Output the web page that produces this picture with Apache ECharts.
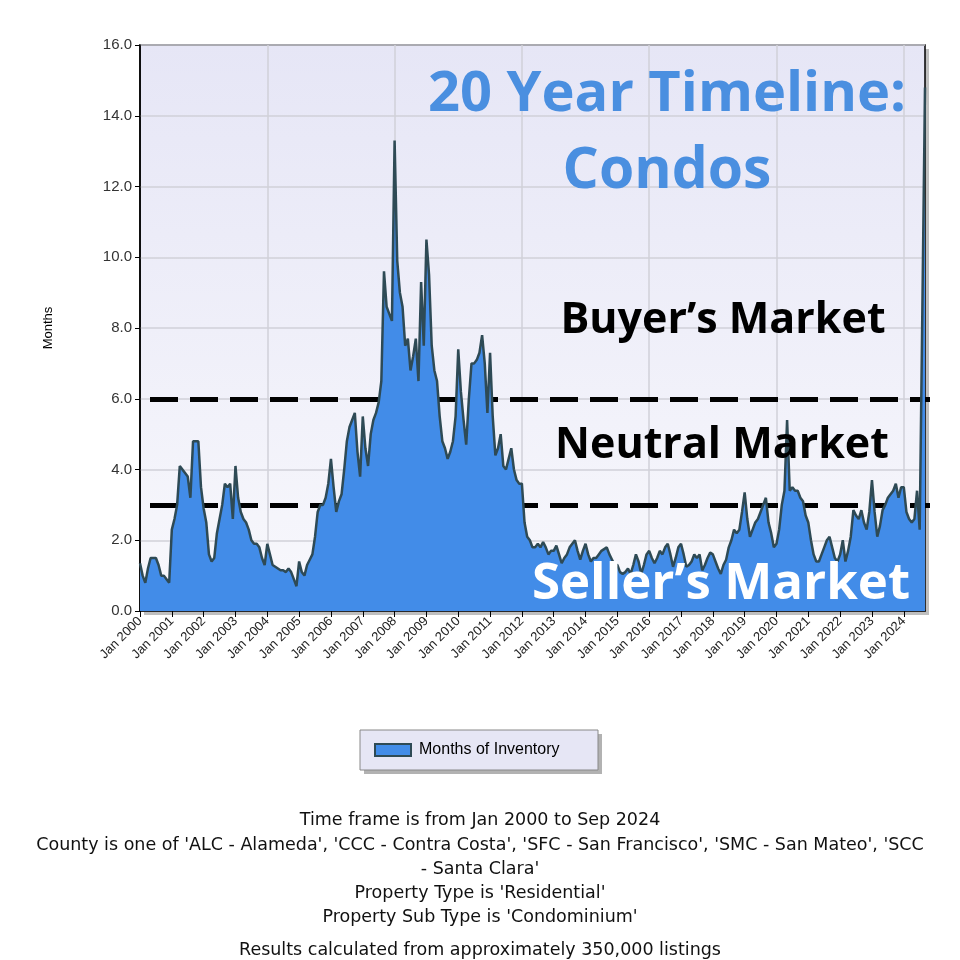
<!DOCTYPE html>
<html><head><meta charset="utf-8">
<script src="https://cdn.jsdelivr.net/npm/echarts@6/dist/echarts.min.js"></script>
<style>html,body{margin:0;padding:0;background:#fff}#c{width:960px;height:960px}</style>
</head><body><div id="c"></div>
<script>
const years = [2000,2001,2002,2003,2004,2005,2006,2007,2008,2009,2010,2011,2012,2013,2014,2015,2016,2017,2018,2019,2020,2021,2022,2023,2024];
const monthNames = ['Jan','Feb','Mar','Apr','May','Jun','Jul','Aug','Sep','Oct','Nov','Dec'];
const v2000 = [1.35,1.0,0.8,1.2,1.5,1.5,1.5,1.3,1.0,1.0,0.9,0.8];
const v2001 = [2.3,2.6,3.0,4.1,4.0,3.9,3.8,3.2,4.8,4.8,4.8,3.5];
const v2002 = [2.9,2.5,1.6,1.4,1.5,2.2,2.6,3.0,3.6,3.5,3.6,2.6];
const v2003 = [4.1,3.2,2.8,2.6,2.5,2.3,2.0,1.9,1.9,1.8,1.5,1.3];
const v2004 = [1.9,1.6,1.3,1.25,1.2,1.15,1.15,1.1,1.2,1.1,0.9,0.7];
const v2005 = [1.4,1.1,1.0,1.3,1.45,1.6,2.1,2.8,3.0,3.0,3.2,3.6];
const v2006 = [4.3,3.5,2.8,3.1,3.3,4.0,4.8,5.2,5.4,5.6,4.5,3.8];
const v2007 = [5.5,4.6,4.1,5.0,5.4,5.6,5.9,6.5,9.6,8.6,8.4,8.2];
const v2008 = [13.3,9.9,9.0,8.6,7.5,7.7,6.8,7.2,7.7,6.5,9.3,7.5];
const v2009 = [10.5,9.5,7.5,6.8,6.5,5.5,4.8,4.6,4.3,4.5,4.8,5.5];
const v2010 = [7.4,6.2,5.4,4.7,6.0,7.0,7.0,7.1,7.3,7.8,7.0,5.6];
const v2011 = [7.3,5.5,4.4,4.6,5.0,4.1,4.0,4.3,4.6,4.0,3.7,3.6];
const v2012 = [3.6,2.5,2.1,2.0,1.8,1.8,1.9,1.8,1.95,1.8,1.6,1.7];
const v2013 = [1.7,1.85,1.6,1.35,1.5,1.6,1.8,1.9,2.0,1.7,1.45,1.7];
const v2014 = [1.9,1.6,1.4,1.5,1.5,1.6,1.7,1.75,1.8,1.6,1.45,1.3];
const v2015 = [1.3,1.1,1.05,1.1,1.2,1.05,1.3,1.6,1.4,1.05,1.3,1.6];
const v2016 = [1.7,1.5,1.35,1.5,1.7,1.6,1.8,1.9,1.6,1.25,1.5,1.8];
const v2017 = [1.9,1.6,1.25,1.3,1.4,1.6,1.5,1.6,1.15,1.3,1.5,1.65];
const v2018 = [1.6,1.4,1.2,1.05,1.3,1.45,1.8,2.0,2.3,2.2,2.3,2.8];
const v2019 = [3.35,2.6,2.1,2.3,2.5,2.6,2.8,3.0,3.2,2.5,2.2,1.8];
const v2020 = [1.9,2.3,3.0,3.4,5.4,3.4,3.5,3.4,3.4,3.2,3.1,2.7];
const v2021 = [2.5,2.0,1.6,1.4,1.4,1.6,1.8,2.0,2.1,1.8,1.5,1.4];
const v2022 = [1.6,2.0,1.4,1.7,2.1,2.85,2.7,2.6,2.85,2.5,2.3,2.8];
const v2023 = [3.7,2.8,2.1,2.4,2.85,3.0,3.2,3.3,3.4,3.6,3.2,3.5];
const v2024 = [3.5,2.8,2.6,2.5,2.6,3.4,2.3,8.5,14.8];
const yTicks = ['0.0','2.0','4.0','6.0','8.0','10.0','12.0','14.0','16.0'];
const thresholds = [3.0, 6.0];
const seriesName = 'Months of Inventory';
const footer = [
 'Time frame is from Jan 2000 to Sep 2024',
 "County is one of 'ALC - Alameda', 'CCC - Contra Costa', 'SFC - San Francisco', 'SMC - San Mateo', 'SCC",
 "- Santa Clara'",
 "Property Type is 'Residential'",
 "Property Sub Type is 'Condominium'",
 'Results calculated from approximately 350,000 listings'
];
const footerY = [820, 845, 869, 893, 917, 950];

const yearVals = [v2000,v2001,v2002,v2003,v2004,v2005,v2006,v2007,v2008,v2009,v2010,v2011,v2012,v2013,v2014,v2015,v2016,v2017,v2018,v2019,v2020,v2021,v2022,v2023,v2024];
const cats = [], vals = [];
yearVals.forEach((arr, i) => arr.forEach((v, m) => { cats.push(monthNames[m] + ' ' + years[i]); vals.push(v); }));

const chart = echarts.init(document.getElementById('c'));
const ff = '"Liberation Sans", Arial, sans-serif';
const big = (text, x, y, color, size, align) => ({type:'text', x, y, style:{text, fill:color, font:'bold '+size+'px "Open Sans", sans-serif', textAlign:align||'center', textVerticalAlign:'middle'}, z:100});
const graphics = [
  {type:'rect', shape:{x:144, y:49, width:785, height:566}, style:{fill:'rgba(0,0,0,0.25)'}, z:-1, silent:true},
  {type:'rect', shape:{x:0, y:0, width:138, height:611}, style:{fill:'#fff'}, z:-2, silent:true},
  {type:'text', x:48, y:328, rotation:Math.PI/2, style:{text:'Months', fill:'#000', font:'13px '+ff, textAlign:'center', textVerticalAlign:'middle'}},
  big('20 Year Timeline:', 906, 95, '#4a8fe0', 56, 'right'),
  big('Condos', 667, 172, '#4a8fe0', 57),
  big('Buyer\u2019s Market', 723, 321, '#000', 43),
  big('Neutral Market', 722, 446, '#000', 43),
  big('Seller\u2019s Market', 721, 584, '#fff', 51),
  {type:'rect', shape:{x:364, y:734, width:238, height:40}, style:{fill:'rgba(0,0,0,0.3)'}},
  {type:'rect', shape:{x:360, y:730, width:238, height:40}, style:{fill:'#e6e6f5', stroke:'#888', lineWidth:1}},
  {type:'rect', shape:{x:375, y:744, width:36, height:12}, style:{fill:'#428ce8', stroke:'#2e4a55', lineWidth:2}},
  {type:'text', x:419, y:750, style:{text:seriesName, fill:'#000', font:'16px '+ff, textVerticalAlign:'middle'}}
];
footer.forEach((t, i) => graphics.push({type:'text', x:480, y:footerY[i], style:{text:t, fill:'#111', font:'17.5px "DejaVu Sans", sans-serif', textAlign:'center', textVerticalAlign:'middle'}}));

chart.setOption({
  animation:false,
  backgroundColor:'#fff',
  grid:{left:140, right:35, top:45, bottom:349, show:true, borderWidth:1.5, borderColor:'#000',
        backgroundColor:new echarts.graphic.LinearGradient(0,0,0,1,[{offset:0,color:'#e6e6f6'},{offset:1,color:'#f8f8fc'}])},
  xAxis:{type:'category', data:cats, boundaryGap:false,
    axisLine:{lineStyle:{color:'#000', width:1.5}},
    axisTick:{interval:(i)=>i%12===0, lineStyle:{color:'#000'}, length:6},
    axisLabel:{interval:(i)=>i%12===0, rotate:45, fontFamily:ff, fontSize:13, color:'#222', margin:8},
    splitLine:{show:true, interval:(i)=>i%48===0 && i>0, lineStyle:{color:'#d0d0d8', width:1.5}}},
  yAxis:{type:'value', min:0, max:16, interval:2,
    axisLine:{show:true, lineStyle:{color:'#000', width:1.5}},
    axisTick:{show:true, lineStyle:{color:'#000'}},
    axisLabel:{formatter:(v)=>yTicks[v/2], fontFamily:ff, fontSize:15, color:'#333'},
    splitLine:{lineStyle:{color:'#d0d0d8', width:1.5}}},
  series:[{name:seriesName, type:'line', data:vals, symbol:'none', z:5,
    lineStyle:{color:'#2e4a55', width:2.5}, areaStyle:{color:'#428ce8', opacity:1},
    markLine:{silent:true, symbol:'none', label:{show:false},
      lineStyle:{color:'#000', width:5, type:[28,12]},
      data:thresholds.map(t=>[{yAxis:t, x:150}, {yAxis:t, x:930}])}}],
  graphic:graphics
});
</script></body></html>
